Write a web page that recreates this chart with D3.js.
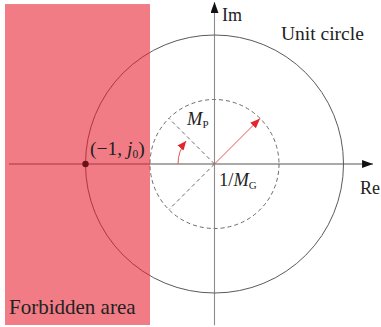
<!DOCTYPE html>
<html>
<head>
<meta charset="utf-8">
<script src="https://cdn.jsdelivr.net/npm/d3@7"></script>
<style>
  html, body { margin: 0; padding: 0; background: #fff; }
  svg text { font-family: "Liberation Serif", "DejaVu Serif", serif; fill: #222; }
</style>
</head>
<body>
<svg id="chart" width="381" height="327"></svg>
<script>
// Nyquist-plane stability margins: unit circle, gain-margin circle,
// phase-margin angle and the forbidden region left of Re = -0.5.
const unitCircleRadius = [1.0];
const gainMarginRadius = [0.5];          // radius of the dashed circle
const criticalPoint = [[-1, 0]];          // (-1, j0)
const forbiddenArea = [[-1.624, -0.5, -1.248, 1.24]]; // re0, re1, im0, im1
const marginVectorAngle = [45];           // red vector, degrees
const dashedRadiusAngles = [135, 225];    // dashed radii, degrees
const phaseArc = [[180, 141, 0.283]];     // start deg, end deg, radius
const realAxisExtent = [-1.593, 1.229];
const imagAxisExtent = [-1.25, 1.256];

const svg = d3.select("#chart");
const x = d3.scaleLinear().domain([-1, 1]).range([85.5, 343.5]);
const y = d3.scaleLinear().domain([-1, 1]).range([293, 35]);
const r = v => x(v) - x(0);
const rad = d => d * Math.PI / 180;

const defs = svg.append("defs");
function marker(id, color, w, h) {
  defs.append("marker")
    .attr("id", id)
    .attr("viewBox", `0 0 ${w} ${h}`)
    .attr("refX", w).attr("refY", h / 2)
    .attr("markerWidth", w).attr("markerHeight", h)
    .attr("markerUnits", "userSpaceOnUse")
    .attr("orient", "auto")
    .append("path")
    .attr("d", `M0,0 L${w},${h / 2} L0,${h} Z`)
    .attr("fill", color);
}
marker("axisHead", "#111", 11, 8);
marker("redHead", "#e3262e", 10, 8);
marker("arcHead", "#e3262e", 9, 8);

// axes
svg.append("line")
  .attr("x1", x(realAxisExtent[0])).attr("x2", x(realAxisExtent[1]))
  .attr("y1", y(0)).attr("y2", y(0))
  .attr("stroke", "#8c8c8c").attr("stroke-width", 1.3)
  .attr("marker-end", "url(#axisHead)");
svg.append("line")
  .attr("x1", x(0)).attr("x2", x(0))
  .attr("y1", y(imagAxisExtent[0])).attr("y2", y(imagAxisExtent[1]))
  .attr("stroke", "#8c8c8c").attr("stroke-width", 1.1)
  .attr("marker-end", "url(#axisHead)");

// unit circle
svg.selectAll("circle.unit").data(unitCircleRadius).join("circle")
  .attr("class", "unit")
  .attr("cx", x(0)).attr("cy", y(0)).attr("r", d => r(d))
  .attr("fill", "none").attr("stroke", "#5a5a5a").attr("stroke-width", 1);

// gain-margin circle (dashed)
svg.selectAll("circle.gm").data(gainMarginRadius).join("circle")
  .attr("class", "gm")
  .attr("cx", x(0)).attr("cy", y(0)).attr("r", d => r(d))
  .attr("fill", "none").attr("stroke", "#6a6a6a").attr("stroke-width", 1)
  .attr("stroke-dasharray", "4,3");

// dashed radii
svg.selectAll("line.radius").data(dashedRadiusAngles).join("line")
  .attr("class", "radius")
  .attr("x1", x(0)).attr("y1", y(0))
  .attr("x2", d => x(gainMarginRadius[0] * Math.cos(rad(d))))
  .attr("y2", d => y(gainMarginRadius[0] * Math.sin(rad(d))))
  .attr("stroke", "#6a6a6a").attr("stroke-width", 1)
  .attr("stroke-dasharray", "4,3");

// margin vector
svg.selectAll("line.vec").data(marginVectorAngle).join("line")
  .attr("class", "vec")
  .attr("x1", x(0)).attr("y1", y(0))
  .attr("x2", d => x(gainMarginRadius[0] * Math.cos(rad(d))))
  .attr("y2", d => y(gainMarginRadius[0] * Math.sin(rad(d))))
  .attr("stroke", "#e8564f").attr("stroke-width", 1)
  .attr("marker-end", "url(#redHead)");

// phase-margin arc
svg.selectAll("path.parc").data(phaseArc).join("path")
  .attr("class", "parc")
  .attr("d", d => {
    const p = d3.path();
    const a0 = -rad(d[0]), a1 = -rad(d[1]);
    p.moveTo(x(0) + r(d[2]) * Math.cos(a0), y(0) + r(d[2]) * Math.sin(a0));
    p.arc(x(0), y(0), r(d[2]), a0 + 2 * Math.PI, a1 + 2 * Math.PI, false);
    return p.toString();
  })
  .attr("fill", "none").attr("stroke", "#e8564f").attr("stroke-width", 1)
  .attr("marker-end", "url(#arcHead)");

// forbidden area (translucent, over the axes and circle)
svg.selectAll("rect.forbid").data(forbiddenArea).join("rect")
  .attr("class", "forbid")
  .attr("x", d => x(d[0])).attr("width", d => x(d[1]) - x(d[0]))
  .attr("y", d => y(d[3])).attr("height", d => y(d[2]) - y(d[3]))
  .attr("fill", "rgb(232,30,44)").attr("fill-opacity", 0.58);

// critical point
svg.selectAll("circle.crit").data(criticalPoint).join("circle")
  .attr("class", "crit")
  .attr("cx", d => x(d[0])).attr("cy", d => y(d[1])).attr("r", 3.2)
  .attr("fill", "#6b1218");

// labels
const t = svg.append("g");
t.append("text").attr("x", 222).attr("y", 21).attr("font-size", 18).text("Im");
t.append("text").attr("x", 360).attr("y", 194).attr("font-size", 18).text("Re");
t.append("text").attr("x", 281).attr("y", 40).attr("font-size", 19.5).text("Unit circle");
t.append("text").attr("x", 9).attr("y", 314).attr("font-size", 21).text("Forbidden area");

const mp = t.append("text").attr("x", 187).attr("y", 125).attr("font-size", 18.5);
mp.append("tspan").attr("font-style", "italic").text("M");
mp.append("tspan").attr("font-size", 11).attr("dy", 3).text("P");

const mg = t.append("text").attr("x", 219).attr("y", 186).attr("font-size", 18.5);
mg.append("tspan").text("1/");
mg.append("tspan").attr("font-style", "italic").text("M");
mg.append("tspan").attr("font-size", 11).attr("dy", 3).text("G");

const cp = t.append("text").attr("x", 90).attr("y", 155).attr("font-size", 19.5);
cp.append("tspan").text("(\u22121, ");
cp.append("tspan").attr("font-style", "italic").text("j");
cp.append("tspan").attr("font-size", 11.5).attr("dy", 3).text("0");
cp.append("tspan").attr("dy", -3).text(")");
</script>
</body>
</html>
